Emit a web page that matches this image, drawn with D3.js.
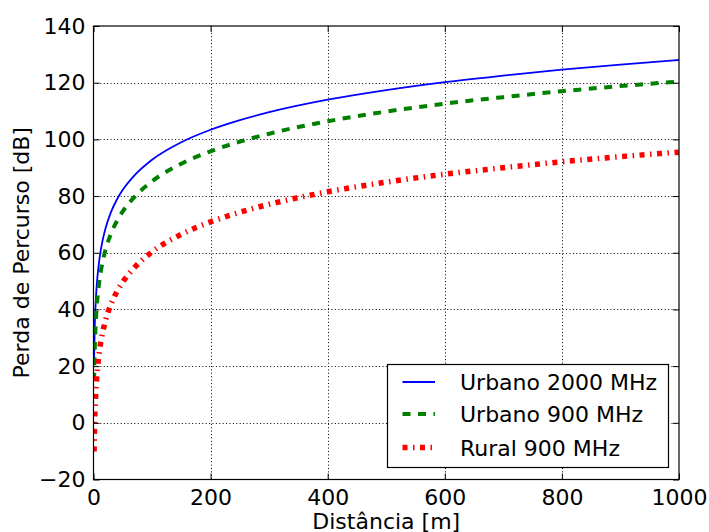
<!DOCTYPE html>
<html>
<head>
<meta charset="utf-8">
<script src="https://cdn.jsdelivr.net/npm/d3@7"></script>
<style>
  body { margin: 0; background: #fff; }
  text { font-family: "DejaVu Sans", sans-serif; fill: #000; }
</style>
</head>
<body>
<script>
// distances (m)
const distances = [1, 2, 3, 5, 7, 10, 15, 20, 30, 40, 50, 70, 100, 150, 200, 250, 300, 400, 500, 600, 700, 800, 900, 1000];
// path loss (dB)
const urbano2000 = [22.4, 33.0, 39.2, 47.0, 52.1, 57.6, 63.8, 68.2, 74.4, 78.8, 82.2, 87.3, 92.8, 99.0, 103.4, 106.8, 109.6, 114.0, 117.4, 120.2, 122.5, 124.6, 126.4, 128.0];
const urbano900 = [14.8, 25.4, 31.6, 39.4, 44.5, 50.0, 56.2, 60.6, 66.8, 71.2, 74.6, 79.7, 85.2, 91.4, 95.8, 99.2, 102.0, 106.4, 109.8, 112.6, 114.9, 117.0, 118.8, 120.4];
const rural900 = [-10.1, 0.5, 6.7, 14.5, 19.6, 25.1, 31.3, 35.7, 41.9, 46.3, 49.7, 54.8, 60.3, 66.5, 70.9, 74.3, 77.1, 81.5, 84.9, 87.7, 90.0, 92.1, 93.9, 95.5];
const seriesNames = ['Urbano 2000 MHz', 'Urbano 900 MHz', 'Rural 900 MHz'];
const xTicks = [0, 200, 400, 600, 800, 1000];
const yTicks = [-20, 0, 20, 40, 60, 80, 100, 120, 140];

const width = 709, height = 532;
const margin = { left: 93.5, right: 30, top: 26, bottom: 52.5 };
const fontSize = '22px';

const x = d3.scaleLinear().domain([0, 1000]).range([margin.left, width - margin.right]);
const y = d3.scaleLinear().domain([-20, 140]).range([height - margin.bottom, margin.top]);

const svg = d3.select('body').append('svg')
  .attr('width', width)
  .attr('height', height);

svg.append('defs').append('clipPath').attr('id', 'clip')
  .append('rect')
  .attr('x', x(0)).attr('y', y(140))
  .attr('width', x(1000) - x(0)).attr('height', y(-20) - y(140));

// grid
const grid = svg.append('g')
  .attr('stroke', '#000')
  .attr('stroke-width', 1)
  .attr('stroke-dasharray', '1,2.4');
grid.selectAll('.gx').data(xTicks.slice(1, -1)).enter().append('line')
  .attr('x1', d => Math.round(x(d)) + 0.5).attr('x2', d => Math.round(x(d)) + 0.5)
  .attr('y1', y(140)).attr('y2', y(-20));
grid.selectAll('.gy').data(yTicks.slice(1, -1)).enter().append('line')
  .attr('y1', d => Math.round(y(d)) + 0.5).attr('y2', d => Math.round(y(d)) + 0.5)
  .attr('x1', x(0)).attr('x2', x(1000));

// lines
const styles = [
  { color: '#0000ff', width: 1.8, dash: null },
  { color: '#008000', width: 4, dash: '8,7.5' },
  { color: '#ff0000', width: 5.5, dash: '5,5.5,1.5,5.5' }
];
const allSeries = [urbano2000, urbano900, rural900];

const line = d3.line()
  .x((d, i) => x(distances[i]))
  .y(d => y(d))
  .curve(d3.curveMonotoneX);

svg.append('g').attr('clip-path', 'url(#clip)')
  .selectAll('path').data(allSeries).enter().append('path')
  .attr('fill', 'none')
  .attr('stroke', (d, i) => styles[i].color)
  .attr('stroke-width', (d, i) => styles[i].width)
  .attr('stroke-dasharray', (d, i) => styles[i].dash)
  .attr('d', line);

// axes, matplotlib classic: ticks inside on all four sides
const tickLen = 6;
const axisLeft = svg.append('g').attr('transform', `translate(${x(0)},0)`)
  .call(d3.axisLeft(y).tickValues(yTicks).tickSize(-tickLen).tickPadding(8).tickFormat(d => d < 0 ? '\u2212' + Math.abs(d) : d));
const axisRight = svg.append('g').attr('transform', `translate(${x(1000)},0)`)
  .call(d3.axisRight(y).tickValues(yTicks).tickSize(-tickLen).tickFormat(''));
const axisBottom = svg.append('g').attr('transform', `translate(0,${y(-20)})`)
  .call(d3.axisBottom(x).tickValues(xTicks).tickSize(-tickLen).tickPadding(10).tickFormat(d => String(d)));
const axisTop = svg.append('g').attr('transform', `translate(0,${y(140)})`)
  .call(d3.axisTop(x).tickValues(xTicks).tickSize(-tickLen).tickFormat(''));

[axisLeft, axisRight, axisBottom, axisTop].forEach(g => {
  g.select('.domain').remove();
  g.selectAll('line').attr('stroke', '#000').attr('stroke-width', 1);
  g.selectAll('text').style('font-family', '"DejaVu Sans", sans-serif').style('font-size', fontSize).attr('fill', '#000');
});

svg.append('rect')
  .attr('x', x(0)).attr('y', y(140))
  .attr('width', x(1000) - x(0)).attr('height', y(-20) - y(140))
  .attr('fill', 'none').attr('stroke', '#000').attr('stroke-width', 1.2);

// axis labels
svg.append('text')
  .attr('x', (x(0) + x(1000)) / 2).attr('y', 529)
  .attr('text-anchor', 'middle')
  .style('font-size', fontSize)
  .text('Distância [m]');
svg.append('text')
  .attr('transform', `translate(29,${(y(140) + y(-20)) / 2}) rotate(-90)`)
  .attr('text-anchor', 'middle')
  .style('font-size', fontSize)
  .text('Perda de Percurso [dB]');

// legend
const legend = svg.append('g');
legend.append('rect')
  .attr('x', 387.5).attr('y', 364.5).attr('width', 281).attr('height', 103)
  .attr('fill', '#fff').attr('stroke', '#000').attr('stroke-width', 1.2);
const rowY = [382, 414, 447.5];
seriesNames.forEach((name, i) => {
  legend.append('line')
    .attr('x1', 402.5).attr('x2', 435).attr('y1', rowY[i]).attr('y2', rowY[i])
    .attr('stroke', styles[i].color)
    .attr('stroke-width', styles[i].width)
    .attr('stroke-dasharray', styles[i].dash);
  legend.append('text')
    .attr('x', 460).attr('y', rowY[i] + 8)
    .style('font-size', fontSize)
    .text(name);
});
</script>
</body>
</html>
